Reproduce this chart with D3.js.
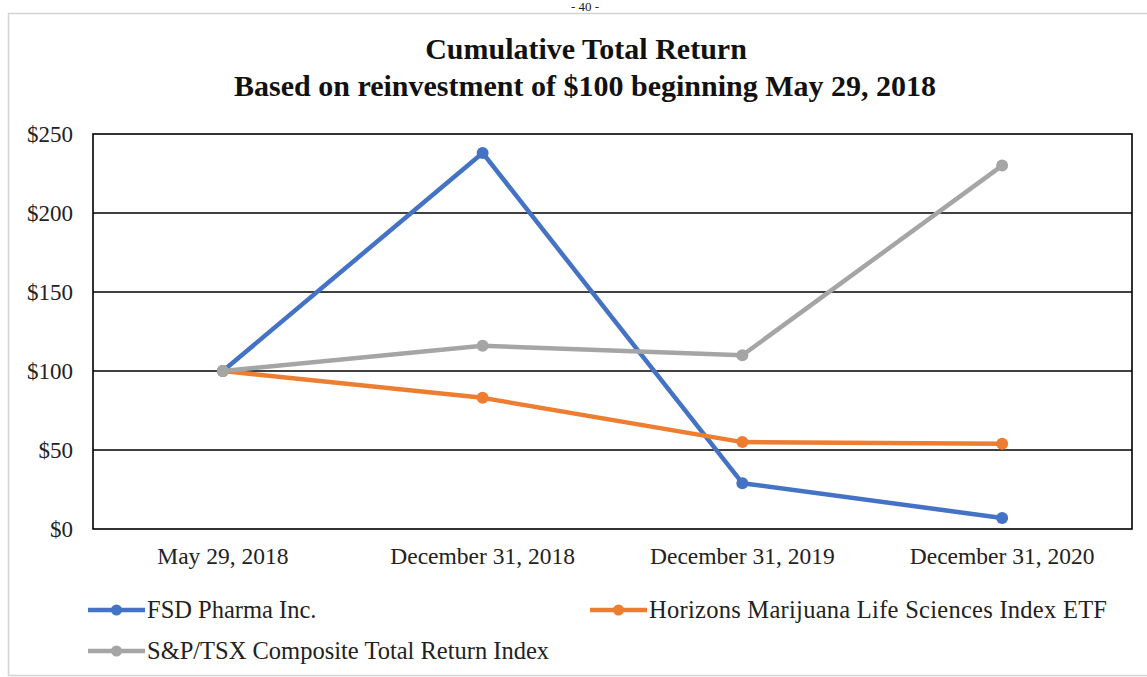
<!DOCTYPE html>
<html><head><meta charset="utf-8">
<script src="https://cdn.jsdelivr.net/npm/d3@7"></script>
<style>body{margin:0;background:#fff;} svg{display:block;}</style>
</head><body>
<svg id="c" width="1147" height="677"></svg>
<script>
const categories = ["May 29, 2018", "December 31, 2018", "December 31, 2019", "December 31, 2020"];
const fsd = [100, 238, 29, 7];
const horizons = [100, 83, 55, 54];
const tsx = [100, 116, 110, 230];
const seriesNames = ["FSD Pharma Inc.", "Horizons Marijuana Life Sciences Index ETF", "S&P/TSX Composite Total Return Index"];
const yTicks = [0, 50, 100, 150, 200, 250];
const titleLines = ["Cumulative Total Return", "Based on reinvestment of $100 beginning May 29, 2018"];

const colors = ["#4472C4", "#ED7D31", "#A5A5A5"];
const series = [fsd, horizons, tsx];
const font = "'Liberation Serif','Times New Roman',serif";

const svg = d3.select("#c");
svg.append("rect").attr("width",1147).attr("height",677).attr("fill","#fff");

// page number
svg.append("text").attr("x",585).attr("y",11).attr("text-anchor","middle")
  .attr("font-family",font).attr("font-size",13).attr("fill","#222").text("- 40 -");

// outer frame
svg.append("rect").attr("x",8.5).attr("y",13.5).attr("width",1150).attr("height",662)
  .attr("fill","#fff").attr("stroke","#d4d4d4").attr("stroke-width",1.5);

// titles
svg.append("text").attr("x",586).attr("y",59).attr("text-anchor","middle")
  .attr("font-family",font).attr("font-weight","bold").attr("font-size",30).attr("fill","#111")
  .text(titleLines[0]);
svg.append("text").attr("x",585).attr("y",96).attr("text-anchor","middle")
  .attr("font-family",font).attr("font-weight","bold").attr("font-size",30).attr("fill","#111")
  .text(titleLines[1]);

const L = 93, R = 1132, T = 134, B = 529;
const x = d3.scaleBand().domain(categories).range([L, R]);
const y = d3.scaleLinear().domain([0, 250]).range([B, T]);
const cx = c => x(c) + x.bandwidth()/2;

// gridlines
svg.append("g").selectAll("line").data(yTicks.filter(t => t>0 && t<250)).join("line")
  .attr("x1",L).attr("x2",R).attr("y1",d=>y(d)).attr("y2",d=>y(d))
  .attr("stroke","#000").attr("stroke-width",1.4);
// plot border
svg.append("rect").attr("x",L).attr("y",T).attr("width",R-L).attr("height",B-T)
  .attr("fill","none").attr("stroke","#000").attr("stroke-width",1.6);

// y labels
svg.append("g").selectAll("text").data(yTicks).join("text")
  .attr("x",73).attr("y",d=>y(d)).attr("dy","0.35em").attr("text-anchor","end")
  .attr("font-family",font).attr("font-size",23).attr("fill","#222")
  .text(d => "$" + d);

// x labels
svg.append("g").selectAll("text").data(categories).join("text")
  .attr("x",d=>cx(d)).attr("y",564).attr("text-anchor","middle")
  .attr("font-family",font).attr("font-size",23.5).attr("fill","#222")
  .text(d=>d);

// lines
const line = d3.line().x((d,i)=>cx(categories[i])).y(d=>y(d));
series.forEach((s, k) => {
  const g = svg.append("g");
  g.append("path").attr("d", line(s)).attr("fill","none")
    .attr("stroke",colors[k]).attr("stroke-width",4.5).attr("stroke-linejoin","round");
  g.selectAll("circle").data(s).join("circle")
    .attr("cx",(d,i)=>cx(categories[i])).attr("cy",d=>y(d)).attr("r",6)
    .attr("fill",colors[k]);
});

// legend
const legendPos = [[88,610],[590,610],[88,651]];
seriesNames.forEach((n,k) => {
  const [lx, ly] = legendPos[k];
  const g = svg.append("g");
  g.append("line").attr("x1",lx).attr("x2",lx+57).attr("y1",ly).attr("y2",ly)
    .attr("stroke",colors[k]).attr("stroke-width",4.5);
  g.append("circle").attr("cx",lx+28.5).attr("cy",ly).attr("r",5.5).attr("fill",colors[k]);
  const t = g.append("text").attr("x",lx+59).attr("y",ly+8).attr("font-family",font)
    .attr("font-size",24.5).attr("fill","#222").text(n);
  if (k === 1) t.attr("textLength",458).attr("lengthAdjust","spacing");
});
</script>
</body></html>
